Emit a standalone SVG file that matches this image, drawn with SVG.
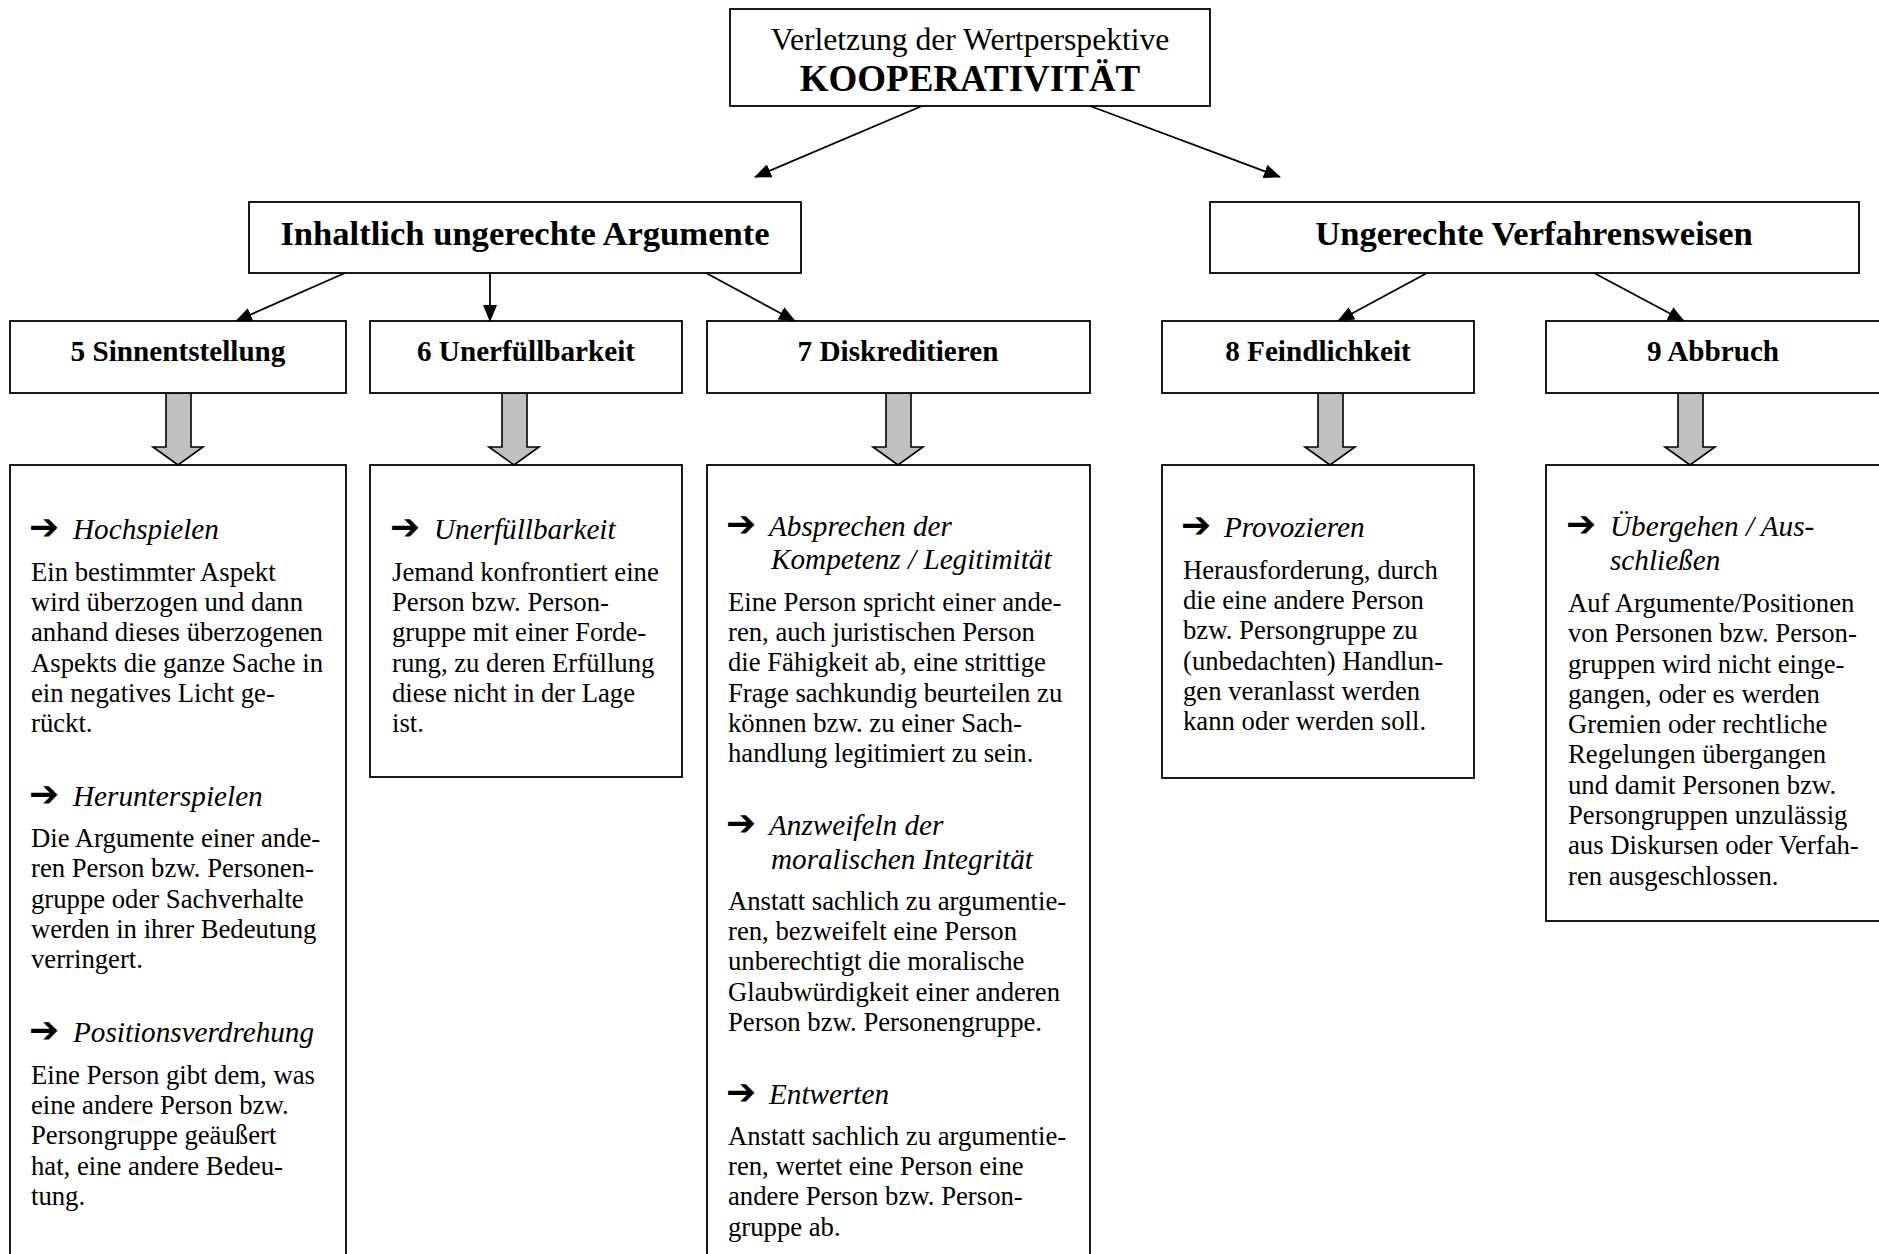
<svg xmlns="http://www.w3.org/2000/svg" width="1879" height="1254" viewBox="0 0 1879 1254">
<style>
.bx{fill:#fff;stroke:#000;stroke-width:1.8}
.ln{stroke:#000;stroke-width:1.8;fill:none;marker-end:url(#ah)}
.ga{fill:#c0c0c0;stroke:#000;stroke-width:1.6;stroke-linejoin:miter}
text{font-family:"Liberation Serif","Times New Roman",serif;fill:#000}
.t1{font-size:31.6px;text-anchor:middle}
.t1b{font-size:37px;font-weight:bold;text-anchor:middle}
.t2{font-size:34.6px;font-weight:bold;text-anchor:middle}
.t3{font-size:29.2px;font-weight:bold;text-anchor:middle}
.hd{font-size:29.2px;font-style:italic}
.ar{font-family:"DejaVu Sans",sans-serif;font-size:36px;font-weight:bold}
.bd{font-size:26.7px}
</style>
<defs>
<marker id="ah" markerUnits="userSpaceOnUse" markerWidth="18" markerHeight="14" refX="16" refY="7" orient="auto">
<path d="M0,0 L17,7 L0,14 z" fill="#000"/>
</marker>
</defs>

<g id="connectors">
<line class="ln" x1="922" y1="106" x2="755" y2="177"/>
<line class="ln" x1="1090" y1="106" x2="1280" y2="177"/>
<line class="ln" x1="345" y1="273" x2="236" y2="321"/>
<line class="ln" x1="490" y1="273" x2="490" y2="321"/>
<line class="ln" x1="706" y1="273" x2="795" y2="321"/>
<line class="ln" x1="1427" y1="273" x2="1338" y2="321"/>
<line class="ln" x1="1594" y1="273" x2="1684" y2="321"/>
<polygon class="ga" points="166,393 191,393 191,447 203,447 178,465 153,447 166,447"/>
<polygon class="ga" points="502,393 527,393 527,447 539,447 514,465 489,447 502,447"/>
<polygon class="ga" points="886,393 911,393 911,447 923,447 898,465 873,447 886,447"/>
<polygon class="ga" points="1318,393 1343,393 1343,447 1355,447 1330,465 1305,447 1318,447"/>
<polygon class="ga" points="1678,393 1703,393 1703,447 1715,447 1690,465 1665,447 1678,447"/>
</g>

<g id="top">
<rect class="bx" x="730" y="9" width="480" height="97"/>
<text class="t1" x="970" y="50">Verletzung der Wertperspektive</text>
<text class="t1b" x="970" y="91">KOOPERATIVITÄT</text>
</g>

<g id="inhaltlich">
<rect class="bx" x="249" y="202" width="552" height="71"/>
<text class="t2" x="525" y="245">Inhaltlich ungerechte Argumente</text>
</g>

<g id="verfahren">
<rect class="bx" x="1210" y="202" width="649" height="71"/>
<text class="t2" x="1534" y="245">Ungerechte Verfahrensweisen</text>
</g>

<g id="n5">
<rect class="bx" x="10" y="321" width="336" height="72"/>
<text class="t3" x="178" y="361">5 Sinnentstellung</text>
</g>
<g id="n6">
<rect class="bx" x="370" y="321" width="312" height="72"/>
<text class="t3" x="526" y="361">6 Unerfüllbarkeit</text>
</g>
<g id="n7">
<rect class="bx" x="707" y="321" width="383" height="72"/>
<text class="t3" x="898" y="361">7 Diskreditieren</text>
</g>
<g id="n8">
<rect class="bx" x="1162" y="321" width="312" height="72"/>
<text class="t3" x="1318" y="361">8 Feindlichkeit</text>
</g>
<g id="n9">
<rect class="bx" x="1546" y="321" width="336" height="72"/>
<text class="t3" x="1713" y="361">9 Abbruch</text>
</g>

<g id="d5">
<rect class="bx" x="10" y="465" width="336" height="800"/>
<text class="ar" x="29" y="539">➔</text><text class="hd" x="73" y="539">Hochspielen</text>
<text class="bd" x="31" y="581">Ein bestimmter Aspekt</text>
<text class="bd" x="31" y="611">wird überzogen und dann</text>
<text class="bd" x="31" y="641">anhand dieses überzogenen</text>
<text class="bd" x="31" y="672">Aspekts die ganze Sache in</text>
<text class="bd" x="31" y="702">ein negatives Licht ge-</text>
<text class="bd" x="31" y="732">rückt.</text>
<text class="ar" x="29" y="806">➔</text><text class="hd" x="73" y="806">Herunterspielen</text>
<text class="bd" x="31" y="847">Die Argumente einer ande-</text>
<text class="bd" x="31" y="877">ren Person bzw. Personen-</text>
<text class="bd" x="31" y="908">gruppe oder Sachverhalte</text>
<text class="bd" x="31" y="938">werden in ihrer Bedeutung</text>
<text class="bd" x="31" y="968">verringert.</text>
<text class="ar" x="29" y="1042">➔</text><text class="hd" x="73" y="1042">Positionsverdrehung</text>
<text class="bd" x="31" y="1084">Eine Person gibt dem, was</text>
<text class="bd" x="31" y="1114">eine andere Person bzw.</text>
<text class="bd" x="31" y="1144">Persongruppe geäußert</text>
<text class="bd" x="31" y="1175">hat, eine andere Bedeu-</text>
<text class="bd" x="31" y="1205">tung.</text>
</g>

<g id="d6">
<rect class="bx" x="370" y="465" width="312" height="312"/>
<text class="ar" x="390" y="539">➔</text><text class="hd" x="434" y="539">Unerfüllbarkeit</text>
<text class="bd" x="392" y="581">Jemand konfrontiert eine</text>
<text class="bd" x="392" y="611">Person bzw. Person-</text>
<text class="bd" x="392" y="641">gruppe mit einer Forde-</text>
<text class="bd" x="392" y="672">rung, zu deren Erfüllung</text>
<text class="bd" x="392" y="702">diese nicht in der Lage</text>
<text class="bd" x="392" y="732">ist.</text>
</g>

<g id="d7">
<rect class="bx" x="707" y="465" width="383" height="800"/>
<text class="ar" x="726" y="536">➔</text><text class="hd" x="769" y="536">Absprechen der</text>
<text class="hd" x="771" y="569">Kompetenz / Legitimität</text>
<text class="bd" x="728" y="611">Eine Person spricht einer ande-</text>
<text class="bd" x="728" y="641">ren, auch juristischen Person</text>
<text class="bd" x="728" y="671">die Fähigkeit ab, eine strittige</text>
<text class="bd" x="728" y="702">Frage sachkundig beurteilen zu</text>
<text class="bd" x="728" y="732">können bzw. zu einer Sach-</text>
<text class="bd" x="728" y="762">handlung legitimiert zu sein.</text>
<text class="ar" x="726" y="835">➔</text><text class="hd" x="769" y="835">Anzweifeln der</text>
<text class="hd" x="771" y="869">moralischen Integrität</text>
<text class="bd" x="728" y="910">Anstatt sachlich zu argumentie-</text>
<text class="bd" x="728" y="940">ren, bezweifelt eine Person</text>
<text class="bd" x="728" y="970">unberechtigt die moralische</text>
<text class="bd" x="728" y="1001">Glaubwürdigkeit einer anderen</text>
<text class="bd" x="728" y="1031">Person bzw. Personengruppe.</text>
<text class="ar" x="726" y="1104">➔</text><text class="hd" x="769" y="1104">Entwerten</text>
<text class="bd" x="728" y="1145">Anstatt sachlich zu argumentie-</text>
<text class="bd" x="728" y="1175">ren, wertet eine Person eine</text>
<text class="bd" x="728" y="1205">andere Person bzw. Person-</text>
<text class="bd" x="728" y="1236">gruppe ab.</text>
</g>

<g id="d8">
<rect class="bx" x="1162" y="465" width="312" height="313"/>
<text class="ar" x="1181" y="537">➔</text><text class="hd" x="1224" y="537">Provozieren</text>
<text class="bd" x="1183" y="579">Herausforderung, durch</text>
<text class="bd" x="1183" y="609">die eine andere Person</text>
<text class="bd" x="1183" y="639">bzw. Persongruppe zu</text>
<text class="bd" x="1183" y="670">(unbedachten) Handlun-</text>
<text class="bd" x="1183" y="700">gen veranlasst werden</text>
<text class="bd" x="1183" y="730">kann oder werden soll.</text>
</g>

<g id="d9">
<rect class="bx" x="1546" y="465" width="336" height="456"/>
<text class="ar" x="1566" y="536">➔</text><text class="hd" x="1610" y="536">Übergehen / Aus-</text>
<text class="hd" x="1610" y="570">schließen</text>
<text class="bd" x="1568" y="612">Auf Argumente/Positionen</text>
<text class="bd" x="1568" y="642">von Personen bzw. Person-</text>
<text class="bd" x="1568" y="673">gruppen wird nicht einge-</text>
<text class="bd" x="1568" y="703">gangen, oder es werden</text>
<text class="bd" x="1568" y="733">Gremien oder rechtliche</text>
<text class="bd" x="1568" y="763">Regelungen übergangen</text>
<text class="bd" x="1568" y="794">und damit Personen bzw.</text>
<text class="bd" x="1568" y="824">Persongruppen unzulässig</text>
<text class="bd" x="1568" y="854">aus Diskursen oder Verfah-</text>
<text class="bd" x="1568" y="885">ren ausgeschlossen.</text>
</g>
</svg>
